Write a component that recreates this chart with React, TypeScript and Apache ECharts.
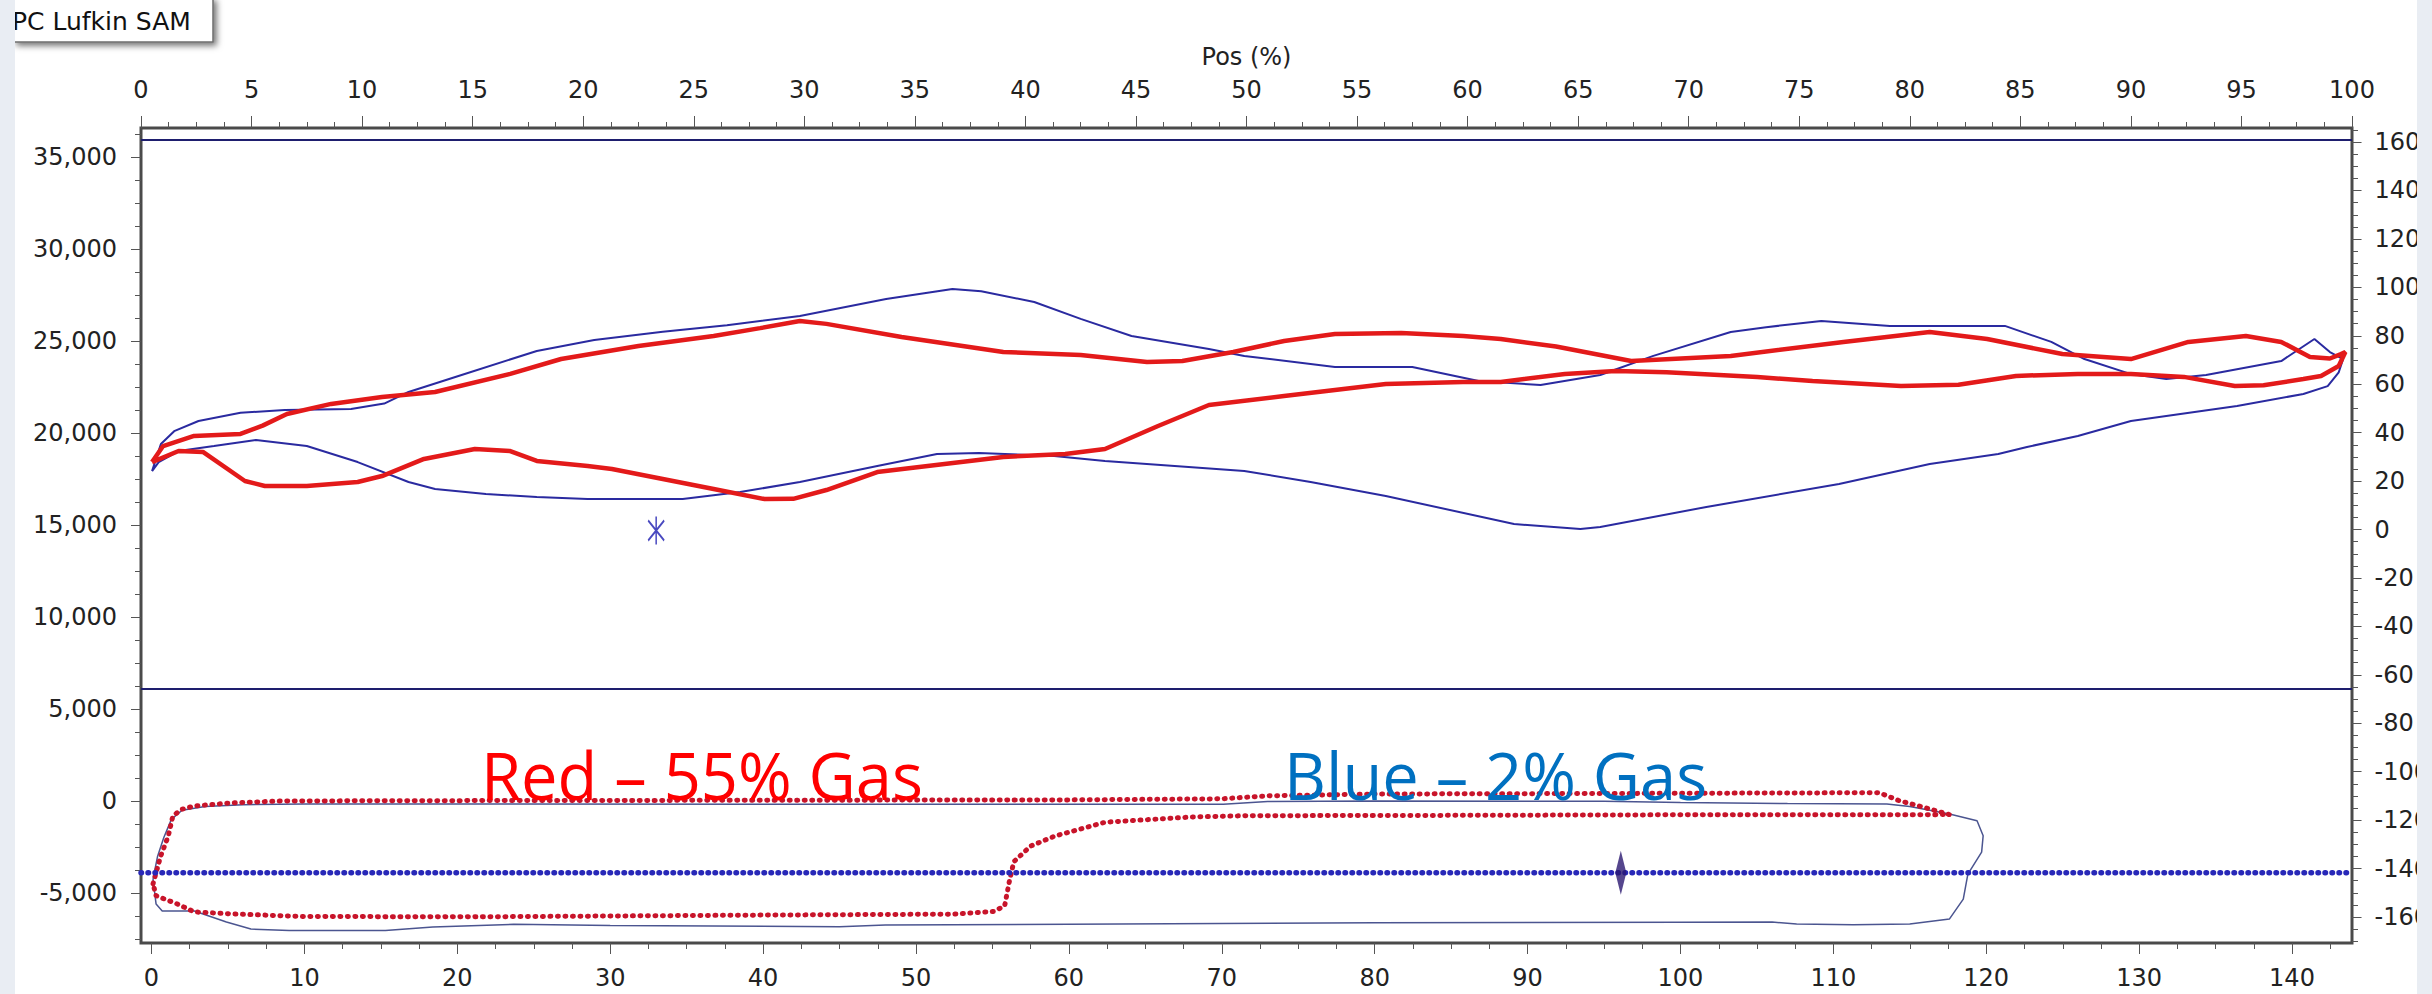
import React, { useEffect, useRef } from "react";
import * as echarts from "echarts";

const W = 2432;
const H = 994;

// Surface dynamometer cards: [Pos (%), Load]
const redSurfaceCard: number[][] = [
  [0.5, 18420], [1.0, 19290], [2.4, 19840], [4.5, 19950], [5.5, 20400], [6.6, 21030], [8.6, 21580],
  [10.9, 21960], [13.3, 22230], [16.7, 23210], [19.0, 24020], [22.5, 24730], [25.9, 25270], [28.0, 25700],
  [29.8, 26090], [31.0, 25930], [34.4, 25220], [39.0, 24400], [42.5, 24240], [45.5, 23860], [47.1, 23910],
  [49.4, 24400], [51.7, 25000], [54.0, 25380], [57.0, 25440], [59.8, 25270], [61.5, 25110], [64.0, 24700],
  [67.4, 23910], [71.9, 24190], [77.0, 24950], [80.9, 25490], [83.5, 25110], [86.9, 24290], [90.0, 24020],
  [92.6, 24950], [95.2, 25270], [96.8, 24950], [98.1, 24130], [99.0, 24050], [99.5, 24290], [99.7, 24400],
  [99.4, 23640], [98.6, 23100], [97.8, 22930], [96.0, 22600], [94.7, 22550], [92.4, 23050], [90.0, 23210],
  [87.6, 23210], [84.8, 23100], [82.2, 22620], [79.6, 22550], [75.6, 22830], [73.1, 23040], [69.0, 23300],
  [66.7, 23370], [64.4, 23210], [61.5, 22770], [59.8, 22770], [56.3, 22660], [51.7, 22010], [48.3, 21520],
  [46.0, 20380], [43.6, 19130], [41.8, 18860], [39.0, 18700], [33.3, 17880], [31.0, 16900], [29.5, 16420],
  [28.2, 16410], [25.9, 16960], [23.6, 17500], [21.3, 18040], [20.2, 18210], [17.9, 18480], [16.7, 19020],
  [15.1, 19130], [12.8, 18590], [10.9, 17660], [9.8, 17340], [7.5, 17120], [5.6, 17120], [4.7, 17390],
  [2.8, 18970], [1.7, 19020], [0.5, 18420],
];

const blueSurfaceCard: number[][] = [
  [0.5, 17930], [0.9, 19400], [1.5, 20100], [2.6, 20650], [4.5, 21100], [6.5, 21250], [9.5, 21300],
  [11.0, 21600], [12.1, 22230], [14.5, 23150], [17.9, 24460], [20.5, 25050], [23.6, 25500], [26.5, 25850],
  [29.8, 26360], [33.7, 27280], [36.7, 27830], [38.0, 27700], [40.4, 27120], [42.5, 26200], [44.8, 25270],
  [48.3, 24570], [49.9, 24190], [54.0, 23590], [57.5, 23590], [60.5, 22830], [63.3, 22610], [66.0, 23150],
  [68.4, 24190], [71.9, 25490], [73.5, 25750], [76.0, 26090], [79.1, 25820], [84.3, 25820], [86.4, 24950],
  [87.9, 24020], [90.0, 23200], [91.6, 22940], [93.4, 23150], [96.8, 23910], [98.3, 25110], [99.0, 24400],
  [99.6, 24020], [99.4, 23300], [98.9, 22550], [97.8, 22120], [94.8, 21470], [90.0, 20650], [87.6, 19840],
  [85.3, 19240], [84.0, 18860], [80.9, 18320], [76.8, 17230], [70.8, 15980], [66.0, 14890], [65.1, 14780],
  [62.1, 15050], [56.3, 16580], [52.9, 17340], [49.9, 17940], [43.6, 18480], [41.3, 18750], [37.9, 18910],
  [36.0, 18860], [33.3, 18210], [29.8, 17340], [27.1, 16790], [24.5, 16410], [20.2, 16410], [17.9, 16520],
  [15.6, 16690], [13.3, 16960], [12.1, 17340], [9.8, 18420], [7.5, 19290], [5.2, 19620], [3.3, 19290],
  [1.7, 19020], [0.8, 18420], [0.5, 17930],
];

// Downhole (pump) cards: [bottom axis, Load]
const redPumpCard: number[][] = [
  [0.1, -4500], [0.6, -3000], [1.1, -1900], [1.4, -800], [2.0, -450], [2.8, -270], [5.1, -110], [8.4, 0],
  [20, 20], [40, 40], [60, 60], [70, 120], [73, 280], [80, 380], [100, 420], [113.0, 450], [114.3, 20],
  [116.3, -430], [117.6, -740], [100, -750], [80, -790], [71.5, -800], [68, -870], [65.8, -980],
  [62.4, -1150], [59.1, -1900], [57.5, -2450], [56.4, -3300], [56.1, -4400], [55.8, -5700], [55.1, -6000],
  [52.4, -6150], [40, -6200], [22, -6290], [10, -6280], [5.4, -6140], [2.8, -6030], [1.7, -5600],
  [0.3, -5150], [0.1, -4500],
];

const bluePumpCard: number[][] = [
  [0.1, -4240], [0.4, -3000], [0.8, -2000], [1.3, -1000], [2.0, -500], [3.5, -300], [6, -200], [10, -160],
  [40, -180], [70.1, -180], [73, -30], [80, 0], [95, -20], [100, -80], [107, -140], [113.5, -160],
  [115.0, -300], [117.6, -710], [119.4, -1070], [119.8, -1890], [119.7, -2780], [118.8, -3970],
  [118.5, -5330], [117.6, -6410], [115.0, -6680], [111.3, -6720], [107.6, -6680], [106.0, -6580],
  [100, -6590], [80, -6620], [60, -6700], [48, -6740], [45, -6830], [30, -6760], [23.7, -6700],
  [18.4, -6850], [15.3, -7040], [9.0, -7040], [6.5, -6960], [4.9, -6580], [2.8, -5980], [0.7, -5980],
  [0.3, -5600], [0.1, -4240],
];

// Horizontal reference line spanning the plot frame, in bottom-axis units
const fluidLoadLine: number[][] = [[-0.69, -3900], [143.9, -3900]];
const diamondMarker: number[][] = [[96.1, -3900]];
const asteriskMarker: number[][] = [[23.3, 14700]];
const upperLimitLine: number[][] = [[0, 35930], [100, 35930]];
const lowerLimitLine: number[][] = [[0, 6090], [100, 6090]];

const annotationTexts = ["Red – 55% Gas", "Blue – 2% Gas"];
const annotationColors = ["#FF0000", "#0070C0"];
const buttonText = "PC Lufkin SAM";
const topAxisName = "Pos (%)";

export default function App() {
  const ref = useRef<HTMLDivElement>(null);

  useEffect(() => {
    document.body.style.margin = "0";
    const chart = echarts.init(ref.current as HTMLDivElement, null, {
      renderer: "svg",
      width: W,
      height: H,
    });
    const font = "DejaVu Sans";
    const labelStyle = { fontFamily: font, fontSize: 24, color: "#222" };
    const tickLine = { color: "#555", width: 1 };
    const noLine = { show: false, onZero: false };
    const hidden = (gridIndex: number, min: number, max: number) => ({
      type: "value",
      gridIndex,
      min,
      max,
      show: false,
      axisLine: noLine,
    });

    const option: any = {
      animation: false,
      backgroundColor: "#ffffff",
      textStyle: { fontFamily: font },
      grid: [
        // 0: frame + top axis
        { left: 141, right: 80, top: 128, bottom: 51, show: true, borderColor: "#4a4a4a", borderWidth: 3, backgroundColor: "#ffffff" },
        // 1: surface cards (Pos % vs load)
        { left: 141, right: 80, top: 157, bottom: 101 },
        // 2: pump cards (bottom axis vs load)
        { left: 151.5, right: 140, top: 157, bottom: 101 },
        // 3: right axis
        { left: 141, right: 80, top: 142, bottom: 77 },
        // 4: left minor ticks
        { left: 141, right: 80, top: 134, bottom: 55 },
        // 5: right minor ticks
        { left: 141, right: 80, top: 130, bottom: 52.8 },
        // 6: bottom minor ticks
        { left: 151.5, right: 101.6, top: 128, bottom: 51 },
        // 7: reference line across full frame (bottom-axis units)
        { left: 141, right: 80, top: 157, bottom: 101 },
      ],
      xAxis: [
        {
          type: "value", gridIndex: 0, position: "top", min: 0, max: 100, interval: 5,
          name: topAxisName, nameLocation: "middle", nameGap: 59,
          nameTextStyle: { fontFamily: font, fontSize: 24, color: "#222" },
          axisLine: noLine,
          axisTick: { show: true, length: 12, lineStyle: tickLine },
          minorTick: { show: true, splitNumber: 4, length: 6, lineStyle: tickLine },
          axisLabel: { ...labelStyle, margin: 26 },
          splitLine: { show: false },
        },
        hidden(1, 0, 100),
        {
          type: "value", gridIndex: 2, position: "bottom", min: 0, max: 140, interval: 10, offset: 50,
          axisLine: noLine,
          axisTick: { show: true, length: 11, lineStyle: tickLine },
          axisLabel: { ...labelStyle, margin: 23 },
          splitLine: { show: false },
        },
        hidden(3, 0, 1),
        hidden(4, 0, 1),
        hidden(5, 0, 1),
        {
          type: "value", gridIndex: 6, position: "bottom", min: 0, max: 142.5, interval: 2.5,
          axisLine: noLine,
          axisTick: { show: true, length: 6, lineStyle: tickLine },
          axisLabel: { show: false },
          splitLine: { show: false },
        },
        hidden(7, -0.69, 143.9),
      ],
      yAxis: [
        hidden(0, 0, 1),
        {
          type: "value", gridIndex: 1, position: "left", min: -5000, max: 35000, interval: 5000,
          axisLine: noLine,
          axisTick: { show: true, length: 10, lineStyle: tickLine },
          axisLabel: { ...labelStyle, margin: 24, formatter: (v: number) => v.toLocaleString("en-US") },
          splitLine: { show: false },
        },
        hidden(2, -5000, 35000),
        {
          type: "value", gridIndex: 3, position: "right", min: -160, max: 160, interval: 20,
          axisLine: noLine,
          axisTick: { show: true, length: 10, lineStyle: tickLine },
          axisLabel: { ...labelStyle, margin: 23 },
          splitLine: { show: false },
        },
        {
          type: "value", gridIndex: 4, position: "left", min: -7500, max: 36250, interval: 1250,
          axisLine: noLine,
          axisTick: { show: true, length: 6, lineStyle: tickLine },
          axisLabel: { show: false },
          splitLine: { show: false },
        },
        {
          type: "value", gridIndex: 5, position: "right", min: -170, max: 165, interval: 5,
          axisLine: noLine,
          axisTick: { show: true, length: 6, lineStyle: tickLine },
          axisLabel: { show: false },
          splitLine: { show: false },
        },
        hidden(6, 0, 1),
        hidden(7, -5000, 35000),
      ],
      series: [
        {
          type: "line", xAxisIndex: 1, yAxisIndex: 1, data: upperLimitLine, symbol: "none", clip: false,
          lineStyle: { color: "#1E1E6E", width: 2 },
        },
        {
          type: "line", xAxisIndex: 1, yAxisIndex: 1, data: lowerLimitLine, symbol: "none", clip: false,
          lineStyle: { color: "#1E1E6E", width: 2 },
        },
        {
          type: "line", xAxisIndex: 1, yAxisIndex: 1, data: blueSurfaceCard, symbol: "none", clip: false,
          lineStyle: { color: "#2A2AA0", width: 2 },
        },
        {
          type: "line", xAxisIndex: 1, yAxisIndex: 1, data: redSurfaceCard, symbol: "none", clip: false,
          lineStyle: { color: "#E31A1A", width: 4.5 },
        },
        {
          type: "scatter", xAxisIndex: 1, yAxisIndex: 1, data: asteriskMarker,
          symbol: "path://M0,0L0,28M-7,4L7,24M-7,24L7,4", symbolSize: [16, 28],
          itemStyle: { color: "rgba(0,0,0,0)", borderColor: "#1C1CB0", borderWidth: 2 },
        },
        {
          type: "line", xAxisIndex: 2, yAxisIndex: 2, data: bluePumpCard, symbol: "none", clip: false,
          lineStyle: { color: "#4B5590", width: 1.5 },
        },
        {
          type: "line", xAxisIndex: 2, yAxisIndex: 2, data: redPumpCard, symbol: "none", clip: false,
          lineStyle: { color: "#C8142A", width: 5, type: [1, 6.5], cap: "round" },
        },
        {
          type: "line", xAxisIndex: 7, yAxisIndex: 7, data: fluidLoadLine, symbol: "none", clip: false,
          lineStyle: { color: "#2828B8", width: 5.5, type: [0.5, 6.5], cap: "round" },
        },
        {
          type: "scatter", xAxisIndex: 2, yAxisIndex: 2, data: diamondMarker, symbol: "diamond",
          symbolSize: [11, 44], itemStyle: { color: "#2A1870" }, z: 5,
        },
      ],
      graphic: [
        {
          type: "rect", z: 100, shape: { x: 14, y: -2, width: 199, height: 44 },
          style: { fill: "#ffffff", stroke: "#6e6e6e", lineWidth: 1.5, shadowBlur: 6, shadowColor: "rgba(0,0,0,0.55)", shadowOffsetX: 3, shadowOffsetY: 3 },
        },
        {
          type: "text", z: 101, x: 12, y: 21,
          style: { text: buttonText, font: '25px "DejaVu Sans"', fill: "#111", verticalAlign: "middle" },
        },
        { type: "rect", z: 110, shape: { x: 0, y: 0, width: 15, height: H }, style: { fill: "#E9EDF3" } },
        { type: "rect", z: 110, shape: { x: 2417, y: 0, width: 15, height: H }, style: { fill: "#E9EDF3" } },
        {
          type: "text", z: 120, x: 481, y: 775,
          style: { text: annotationTexts[0], font: '65px "Open Sans"', fill: annotationColors[0], verticalAlign: "middle" },
        },
        {
          type: "text", z: 120, x: 1284, y: 775,
          style: { text: annotationTexts[1], font: '65px "Open Sans"', fill: annotationColors[1], verticalAlign: "middle" },
        },
      ],
    };

    chart.setOption(option);
    return () => chart.dispose();
  }, []);

  return <div ref={ref} style={{ width: W, height: H }} />;
}
